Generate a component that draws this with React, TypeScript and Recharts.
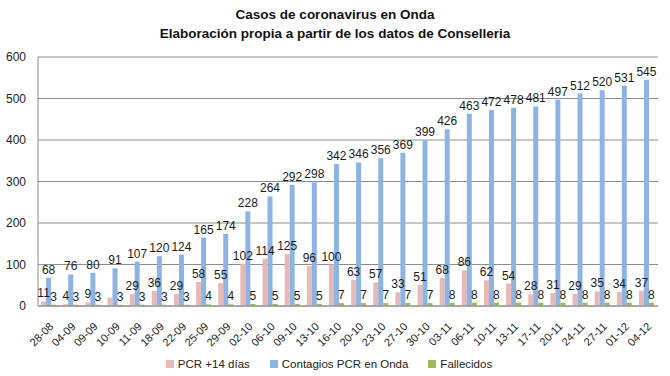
import { BarChart, Bar, XAxis, YAxis, CartesianGrid, Legend, LabelList } from "recharts";

const fechas = [
  "28-08", "04-09", "09-09", "10-09", "11-09", "18-09", "22-09", "25-09", "29-09", "02-10",
  "06-10", "09-10", "13-10", "16-10", "20-10", "23-10", "27-10", "30-10", "03-11", "06-11",
  "10-11", "13-11", "17-11", "20-11", "24-11", "27-11", "01-12", "04-12",
];
const pcr14 = [11, 4, 9, 20, 29, 36, 29, 58, 55, 102, 114, 125, 96, 100, 63, 57, 33, 51, 68, 86, 62, 54, 28, 31, 29, 35, 34, 37];
const contagios = [68, 76, 80, 91, 107, 120, 124, 165, 174, 228, 264, 292, 298, 342, 346, 356, 369, 399, 426, 463, 472, 478, 481, 497, 512, 520, 531, 545];
const fallecidos = [3, 3, 3, 3, 3, 3, 3, 4, 4, 5, 5, 5, 5, 7, 7, 7, 7, 7, 8, 8, 8, 8, 8, 8, 8, 8, 8, 8];
// la etiqueta del 10-09 no aparece en el original
const sinEtiquetaPcr = [3];
const yTicks = [0, 100, 200, 300, 400, 500, 600];

const data = fechas.map((f, i) => ({
  fecha: f,
  pcr: pcr14[i],
  contagios: contagios[i],
  fallecidos: fallecidos[i],
}));

const FONT = "'Liberation Sans', Arial, sans-serif";
const COLORS = { pcr: "#E6B9B8", contagios: "#8DB3E2", fallecidos: "#9BBB59" };
const SERIES = [
  { key: "pcr", name: "PCR +14 días" },
  { key: "contagios", name: "Contagios PCR en Onda" },
  { key: "fallecidos", name: "Fallecidos" },
];

function RotTick(props: any) {
  const { x, y, payload } = props;
  const tx = x + 3;
  const ty = y + 11;
  return (
    <text x={tx} y={ty} transform={`rotate(-45 ${tx} ${ty})`} textAnchor="end" dominantBaseline="middle" fontSize={11} fill="#222" fontFamily={FONT}>
      {payload.value}
    </text>
  );
}

function valueLabel(skip: number[] = []) {
  return (props: any) => {
    const { x, y, width, value, index } = props;
    if (skip.includes(index)) return null;
    return (
      <text x={x + width / 2} y={y - 4} textAnchor="middle" fontSize={12} fill="#1a1a1a" fontFamily={FONT}>
        {value}
      </text>
    );
  };
}

function Leyenda() {
  return (
    <div style={{ display: "flex", justifyContent: "center", gap: 20, paddingTop: 6, fontFamily: FONT, fontSize: 11.5, color: "#222" }}>
      {SERIES.map((s) => (
        <span key={s.key} style={{ display: "flex", alignItems: "center" }}>
          <span style={{ width: 8, height: 8, background: (COLORS as any)[s.key], marginRight: 4, display: "inline-block" }} />
          {s.name}
        </span>
      ))}
    </div>
  );
}

export default function App() {
  return (
    <div style={{ position: "fixed", left: 0, top: 0, width: 670, height: 376, background: "#fff" }}>
      <div style={{ position: "absolute", left: 0, top: 5, width: 670, textAlign: "center", fontFamily: FONT, fontWeight: "bold", fontSize: 13.5, lineHeight: "19px", color: "#111" }}>
        <div>Casos de coronavirus en Onda</div>
        <div>Elaboración propia a partir de los datos de Conselleria</div>
      </div>
      <BarChart width={670} height={376} data={data} margin={{ top: 57, right: 12, left: 0, bottom: 0 }} barCategoryGap="14%" barGap={0}>
        <CartesianGrid vertical={false} stroke="#8c8c8c" />
        <XAxis dataKey="fecha" interval={0} height={46} tickLine={false} axisLine={{ stroke: "#8c8c8c" }} tick={<RotTick />} />
        <YAxis domain={[0, 600]} ticks={yTicks} width={38} axisLine={{ stroke: "#8c8c8c" }} tickLine={false} tickMargin={6} tick={{ fontSize: 12, fill: "#222", fontFamily: FONT }} />
        <Legend verticalAlign="bottom" height={24} content={<Leyenda />} />
        <Bar dataKey="pcr" name="PCR +14 días" fill={COLORS.pcr} isAnimationActive={false}>
          <LabelList dataKey="pcr" content={valueLabel(sinEtiquetaPcr)} />
        </Bar>
        <Bar dataKey="contagios" name="Contagios PCR en Onda" fill={COLORS.contagios} isAnimationActive={false}>
          <LabelList dataKey="contagios" content={valueLabel()} />
        </Bar>
        <Bar dataKey="fallecidos" name="Fallecidos" fill={COLORS.fallecidos} isAnimationActive={false}>
          <LabelList dataKey="fallecidos" content={valueLabel()} />
        </Bar>
      </BarChart>
    </div>
  );
}
